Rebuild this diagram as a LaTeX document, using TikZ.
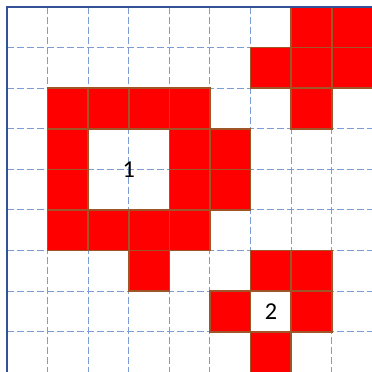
\documentclass[tikz,border=0pt]{standalone}
\usepackage{fontspec}
\setmainfont{Carlito}
\usepackage{xcolor}
\usepackage{tikz}

\definecolor{gridblue}{RGB}{125,155,212}
\definecolor{axisblue}{RGB}{52,80,150}
\definecolor{cellbrown}{RGB}{160,85,40}

\begin{document}
\begin{tikzpicture}[
    x=1cm, y=-1cm,
    gridline/.style={draw=gridblue, dash pattern=on 5pt off 2pt, line width=0.7pt},
    axisline/.style={draw=axisblue, line width=1.3pt},
    cell/.style={draw=cellbrown, fill=red, line width=1pt},
    numtext/.style={font=\fontsize{17}{19}\selectfont, inner sep=0pt}
]
\useasboundingbox (-0.172,-0.172) rectangle (8.966,8.99);

% dashed grid
\foreach \i in {1,...,8} {
    \draw[gridline] (0,\i) -- (9.2,\i);
    \draw[gridline] (\i,0) -- (\i,9.2);
}

% red cells (column/row, counted from the top left)
\foreach \c/\r in {7/0, 8/0,
                   6/1, 7/1, 8/1,
                   1/2, 2/2, 3/2, 4/2, 7/2,
                   1/3, 4/3, 5/3,
                   1/4, 4/4, 5/4,
                   1/5, 2/5, 3/5, 4/5,
                   3/6, 6/6, 7/6,
                   5/7, 7/7,
                   6/8} {
    \draw[cell] (\c,\r) rectangle ++(1,1);
}

% borders
\draw[axisline] (0,9.2) -- (0,0) -- (9.2,0);

% region labels
\node[numtext] (one) at (3,4) {1};
\node[numtext] (two) at (6.5,7.5) {2};

\end{tikzpicture}
\end{document}
